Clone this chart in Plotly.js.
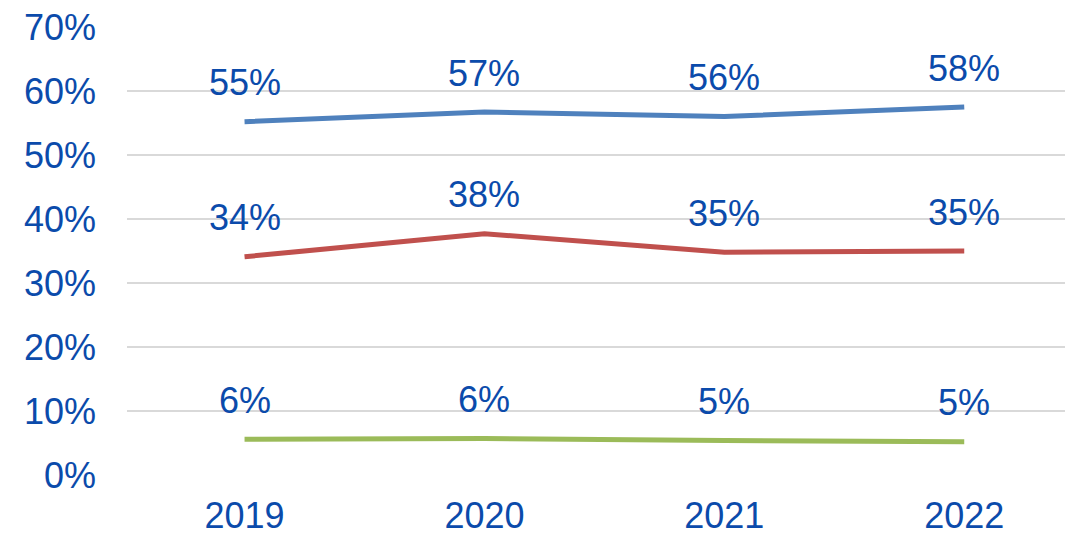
<!DOCTYPE html>
<html>
<head>
<meta charset="utf-8">
<script src="https://cdn.plot.ly/plotly-3.0.1.min.js"></script>
<style>
  html, body { margin: 0; padding: 0; background: #fff; }
  #chart { width: 1069px; height: 533px; }
</style>
</head>
<body>
<div id="chart"></div>
<script>
const years = ['2019', '2020', '2021', '2022'];
const seriesA = [55.2, 56.7, 56.0, 57.5];
const seriesB = [34.1, 37.7, 34.8, 35.0];
const seriesC = [5.6, 5.7, 5.4, 5.2];
const yTicks = [0, 10, 20, 30, 40, 50, 60, 70];

const textColor = '#0b4bab';
function bigFont() {
    return {family: 'Liberation Sans, Arial, sans-serif', size: 36, color: textColor};
}

const series = [
    {y: seriesA, color: '#4f81bd'},
    {y: seriesB, color: '#c0504d'},
    {y: seriesC, color: '#9bbb59'}
];

const traces = series.map(s => ({
    x: years,
    y: s.y,
    type: 'scatter',
    mode: 'lines',
    line: {color: s.color, width: 5},
    hoverinfo: 'skip',
    showlegend: false
}));

// value labels above each point (x given as category index)
const annotations = [];
series.forEach(s => {
    s.y.forEach((v, i) => {
        annotations.push({
            xref: 'x',
            yref: 'y',
            x: i,
            y: v,
            text: Math.round(v) + '%',
            showarrow: false,
            yshift: 39,
            font: bigFont()
        });
    });
});

const layout = {
    width: 1069,
    height: 533,
    margin: {l: 127, r: 4, t: 27, b: 58},
    paper_bgcolor: '#ffffff',
    plot_bgcolor: '#ffffff',
    font: bigFont(),
    showlegend: false,
    xaxis: {
        type: 'category',
        range: [-0.49, 3.42],
        showgrid: false,
        zeroline: false,
        showline: false,
        ticks: '',
        ticklabelstandoff: 16,
        tickfont: bigFont()
    },
    yaxis: {
        range: [0, 70],
        tickvals: yTicks,
        ticktext: yTicks.map(t => t + '%'),
        showgrid: true,
        gridcolor: '#d9d9d9',
        gridwidth: 1.5,
        zeroline: false,
        showline: false,
        ticks: '',
        ticklabelstandoff: 30,
        tickfont: bigFont()
    },
    annotations: annotations
};

Plotly.newPlot('chart', traces, layout, {displayModeBar: false, staticPlot: true});
</script>
</body>
</html>
